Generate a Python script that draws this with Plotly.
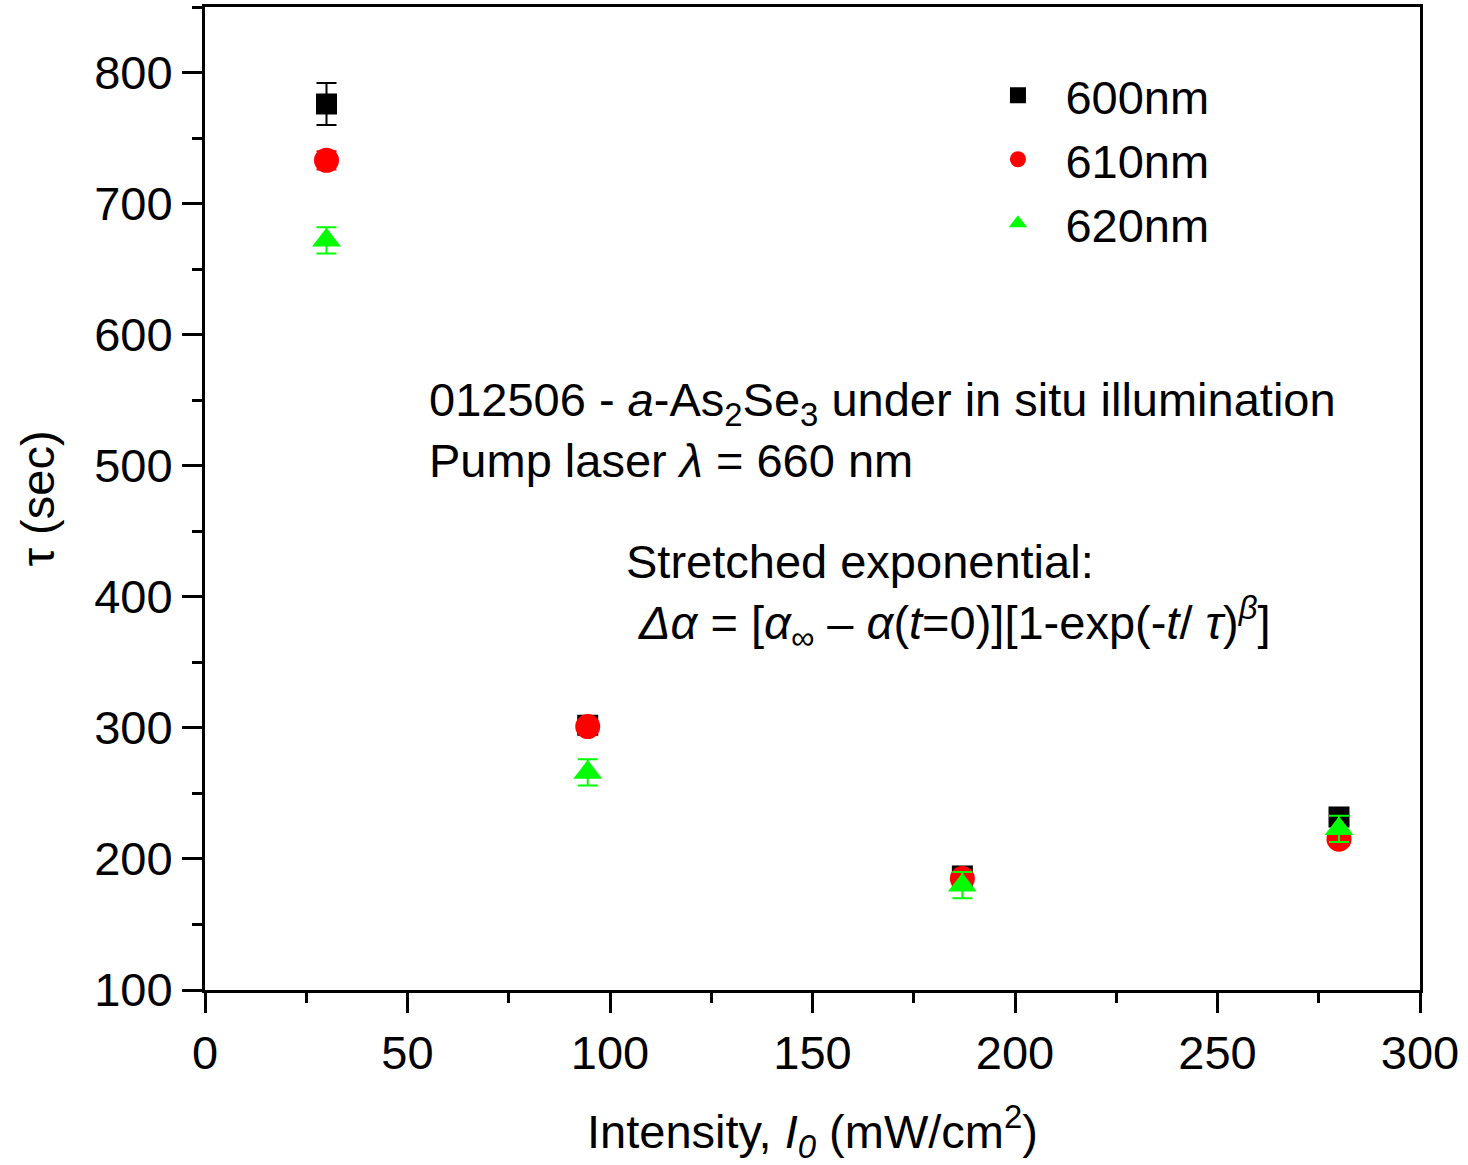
import plotly.graph_objects as go

intensity = [30, 94.5, 187, 280]
tau_600 = [776, 302, 187, 232]
err_600 = [16, 5, 5, 5]
tau_610 = [733, 301, 185, 215]
err_610 = [7, 4, 4, 4]
tau_620 = [672, 266, 180, 223]
err_620 = [10, 10, 10, 10]

names = ["600nm", "610nm", "620nm"]
FONT = "Liberation Sans, Arial, sans-serif"
FS = 47

fig = go.Figure()
series = [
    (tau_600, err_600, "square", "#000000", 21),
    (tau_610, err_610, "circle", "#ff0000", 25),
    (tau_620, err_620, "triangle-up", "#00ff00", 25),
]
for name, (y, e, sym, col, sz) in zip(names, series):
    fig.add_trace(go.Scatter(
        x=intensity, y=y, mode="markers", name=name,
        marker=dict(symbol=sym, color=col, size=sz, line=dict(width=0)),
        error_y=dict(type="data", array=e, visible=True, color=col,
                     thickness=2, width=10),
    ))

axis_common = dict(
    showline=True, linecolor="black", linewidth=3, mirror=True,
    ticks="outside", tickwidth=3, tickcolor="black",
    showgrid=False, zeroline=False,
    tickfont=dict(family=FONT, size=FS, color="black"),
    minor=dict(ticks="outside", ticklen=10, tickwidth=3, tickcolor="black"),
)

fig.update_xaxes(range=[0, 300], tickvals=[0, 50, 100, 150, 200, 250, 300],
                 ticklen=20, minor_dtick=25,
                 title=dict(text="Intensity, <i>I</i><sub><i>0</i></sub> (mW/cm<sup>2</sup>)",
                            font=dict(family=FONT, size=FS, color="black"), standoff=40),
                 **axis_common)
fig.update_yaxes(range=[100, 850], tickvals=[100, 200, 300, 400, 500, 600, 700, 800],
                 ticklen=20, minor_dtick=50,
                 title=dict(text="τ (sec)", font=dict(family=FONT, size=FS, color="black"),
                            standoff=25),
                 **axis_common)

fig.add_annotation(xref="paper", yref="paper", x=0.183, y=0.51, xanchor="left", yanchor="bottom",
                   align="left", showarrow=False,
                   text="012506 - <i>a</i>-As<sub>2</sub>Se<sub>3</sub> under in situ illumination<br>Pump laser <i>λ</i> = 660 nm",
                   font=dict(family=FONT, size=FS, color="black"))
fig.add_annotation(xref="paper", yref="paper", x=0.345, y=0.338, xanchor="left", yanchor="bottom",
                   align="left", showarrow=False,
                   text="Stretched exponential:<br> <i>Δα</i> = [<i>α</i><sub><i>∞</i></sub> – <i>α</i>(<i>t</i>=0)][1-exp(-<i>t</i>/ <i>τ</i>)<sup><i>β</i></sup>]",
                   font=dict(family=FONT, size=FS, color="black"))

fig.update_layout(
    width=1468, height=1165,
    margin=dict(l=205, r=48, t=4, b=175),
    plot_bgcolor="white", paper_bgcolor="white",
    font=dict(family=FONT, size=FS, color="black"),
    legend=dict(x=0.63, y=0.948, xanchor="left", yanchor="top",
                bgcolor="rgba(0,0,0,0)", font=dict(family=FONT, size=FS),
                itemwidth=85, tracegroupgap=0),
)

fig.write_html("out.html", config={"displayModeBar": False},
               post_script="document.body.style.margin='0';document.body.style.overflow='hidden';")
